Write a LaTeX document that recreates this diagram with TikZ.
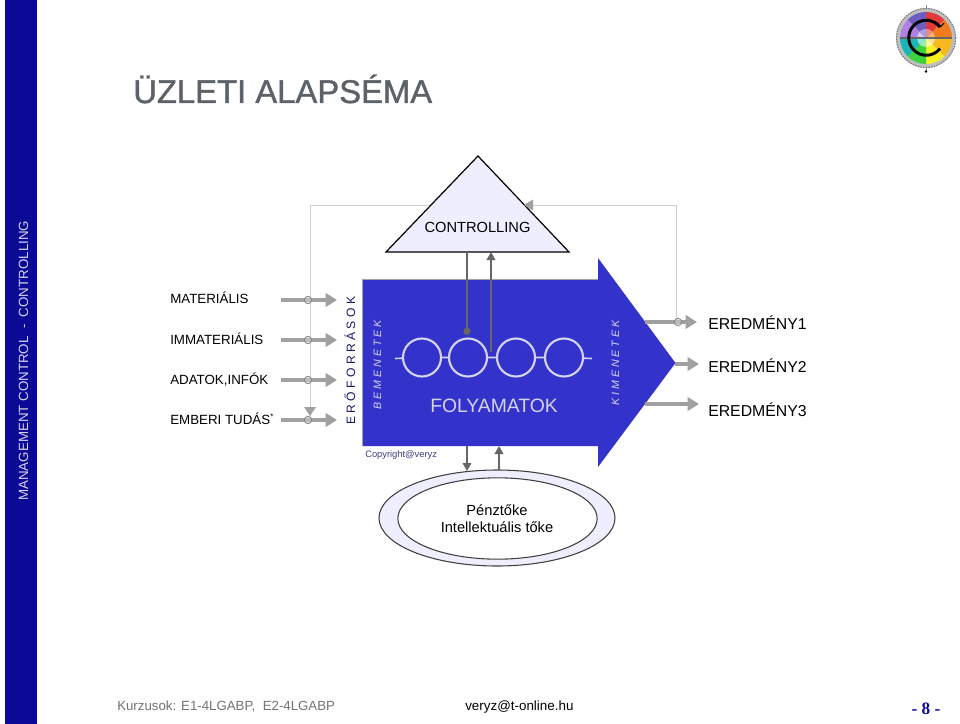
\documentclass[tikz,border=0pt]{standalone}
\usepackage{fontspec}
\setmainfont{Liberation Sans}
\newfontfamily\serifb{Liberation Serif}
\newfontfamily\titlefont[FakeBold=1.2]{Liberation Sans}
\usetikzlibrary{arrows.meta,shapes.geometric}
\definecolor{barblue}{HTML}{0A0A96}
\definecolor{bodyblue}{HTML}{3333CC}
\definecolor{palelav}{HTML}{EEEEFF}
\definecolor{lightline}{HTML}{D4D4F0}
\definecolor{flowgray}{HTML}{A0A0A0}
\definecolor{fbgray}{HTML}{CFCFCF}
\definecolor{darkarrow}{HTML}{666666}
\definecolor{titlegray}{HTML}{5C6268}
\definecolor{navytext}{HTML}{1A1A6A}
\tikzset{
  lbl/.style={anchor=base west,inner sep=0pt,text=black,font=\fontsize{10}{12}\selectfont},
  res/.style={anchor=base west,inner sep=0pt,text=black,font=\fontsize{11.85}{14}\selectfont},
  vert/.style={rotate=90,anchor=base west,inner sep=0pt},
  flow/.style={draw=flowgray,line width=3pt,-{Triangle[length=8.5pt,width=10pt,fill=flowgray]}},
  tap/.style={circle,draw=darkarrow!80,line width=.6pt,fill=flowgray!45,minimum size=5.6pt,inner sep=0pt,fill opacity=.5},
  feedback/.style={draw=fbgray,line width=.6pt},
  proc/.style={circle,draw=lightline,line width=1.6pt,minimum size=28.5pt,inner sep=0pt},
  stub/.style={draw=lightline,line width=1.2pt},
  ctrlarrow/.style={draw=darkarrow,line width=1pt},
}
\begin{document}
\begin{tikzpicture}[x=.75pt,y=-.75pt]
\useasboundingbox (0,0) rectangle (960,724);
\fill[white] (0,0) rectangle (960,724);
% side bar
\fill[barblue] (5,0) rectangle (37,724);
\node[vert,text=lightline,font=\fontsize{10}{12}\selectfont] (side) at (28,501) {MANAGEMENT CONTROL\ \ -\ \ CONTROLLING};
% title
\node[anchor=base west,inner sep=0pt,text=titlegray,font=\fontsize{24.6}{28}\selectfont\titlefont] (title) at (133,103) {ÜZLETI ALAPSÉMA};
% feedback line
\coordinate (fbR) at (676,322);
\coordinate (fbRt) at (676,205);
\coordinate (fbLt) at (310,205);
\coordinate (fbTip) at (530,205);
\coordinate (fbIn) at (430,205);
\coordinate (fbDown) at (310,420);
\draw[feedback] (fbIn) -- (fbLt) -- (fbDown);
\draw[feedback] (fbR) -- (fbRt) -- (fbTip);
% triangle
\draw[fill=palelav,draw=black,line width=.9pt,line join=miter] (478,156) coordinate (ctop) -- (569,252) coordinate (cr) -- (386,252) coordinate (cl) -- cycle;
\fill[flowgray] (524,205) -- (533,199.5) -- (533,210.5) -- cycle;
\fill[flowgray] (310,416) -- (304,407) -- (316,407) -- cycle;
\node[anchor=base,inner sep=0pt,font=\fontsize{11}{14}\selectfont] (ctrl) at (477.5,232) {CONTROLLING};
% big arrow
\fill[bodyblue] (362,279) -- (598,279) -- (598,258) -- (675.5,363) -- (598,467) -- (598,446) -- (362,446) -- cycle;
\draw[darkarrow!60,line width=.5pt] (362,446) -- (362,279) -- (598,279);
% process circles
\node[proc] (p1) at (422,357.5) {};
\node[proc] (p2) at (468,357.5) {};
\node[proc] (p3) at (516,357.5) {};
\node[proc] (p4) at (564,357.5) {};
\coordinate (sl) at (395,358.5);
\coordinate (sr) at (592,358.5);
\draw[stub] (sl) -- (p1) (p1) -- (p2) (p2) -- (p3) (p3) -- (p4) (p4) -- (sr);
\node[anchor=base west,inner sep=0pt,text=lightline,font=\fontsize{14.5}{17}\selectfont] (fol) at (430,412) {FOLYAMATOK};
% vertical texts
\node[vert,text=navytext,font=\fontsize{9.1}{11}\selectfont] (ero) at (355,425) {E R Ő F O R R Á S O K};
\node[vert,text=lightline,font=\fontsize{8}{10}\selectfont\itshape] (bem) at (381,410) {B E M E N E T E K};
\node[vert,text=lightline,font=\fontsize{8}{10}\selectfont\itshape] (kim) at (619,406) {K I M E N E T E K};
\node[anchor=base west,inner sep=0pt,text=navytext!85,font=\fontsize{7}{9}\selectfont] (copy) at (365,457) {Copyright@veryz};
% controlling arrows
\coordinate (c1a) at (467,252);
\coordinate (c1b) at (467,335);
\coordinate (c2a) at (491,352);
\coordinate (c2b) at (491,252);
\draw[ctrlarrow,-{Circle[length=5.5pt,fill=darkarrow]}] (c1a) -- (c1b);
\draw[ctrlarrow,-{Triangle[length=6pt,width=6.5pt,fill=darkarrow]}] (c2a) -- (c2b);
% left labels
\node[lbl] (m1) at (170,303.5) {MATERIÁLIS};
\node[lbl] (m2) at (170,344) {IMMATERIÁLIS};
\node[lbl] (m3) at (170,384) {ADATOK,INFÓK};
\node[lbl] (m4) at (170,424) {EMBERI TUDÁS\raisebox{3.5pt}{\fontsize{6}{6}\selectfont *}};
\foreach \n/\y in {1/300,2/340,3/380,4/420}{
  \coordinate (a\n) at (281,\y);
  \coordinate (b\n) at (337,\y);
  \draw[flow] (a\n) -- (b\n);
  \node[tap] (t\n) at (308,\y) {};
}
% right arrows
\coordinate (ra1) at (645,322); \coordinate (rb1) at (697,322);
\coordinate (ra2) at (675,364); \coordinate (rb2) at (699,364);
\coordinate (ra3) at (645,404); \coordinate (rb3) at (699,404);
\draw[flow] (ra1) -- (rb1);
\draw[flow] (ra2) -- (rb2);
\draw[flow] (ra3) -- (rb3);
\node[tap] (t5) at (678,322) {};
\node[res] (e1) at (708,329) {EREDMÉNY1};
\node[res] (e2) at (708,372) {EREDMÉNY2};
\node[res] (e3) at (708,416) {EREDMÉNY3};
% ellipses
\node[ellipse,draw=black!75,line width=.8pt,fill=palelav,minimum width=177pt,minimum height=72pt,inner sep=0pt] (outer) at (497,518) {};
\node[ellipse,draw=black!75,line width=.8pt,fill=white,minimum width=149.5pt,minimum height=61pt,inner sep=0pt] (inner) at (497.5,518.5) {};
\node[anchor=base,inner sep=0pt,font=\fontsize{11}{13}\selectfont] (pt) at (497,515) {Pénztőke};
\node[anchor=base,inner sep=0pt,font=\fontsize{11}{13}\selectfont] (it) at (497,532.5) {Intellektuális tőke};
% bottom arrows
\coordinate (u1) at (467,446); \coordinate (u2) at (467,471);
\coordinate (v1) at (499,470); \coordinate (v2) at (499,446);
\draw[ctrlarrow,-{Triangle[length=6pt,width=6.5pt,fill=darkarrow]}] (u1) -- (u2);
\draw[ctrlarrow,-{Triangle[length=6pt,width=6.5pt,fill=darkarrow]}] (v1) -- (v2);
% footer
\node[anchor=base west,inner sep=0pt,text=black!55,font=\fontsize{9.95}{12}\selectfont] (kurz) at (117,710) {Kurzusok: E1-4LGABP,\ \ E2-4LGABP};
\node[anchor=base west,inner sep=0pt,font=\fontsize{10.05}{12}\selectfont] (mail) at (465,710) {veryz@t-online.hu};
\node[anchor=base,inner sep=0pt,text=barblue,font=\fontsize{13}{15}\selectfont\serifb\bfseries] (pg) at (926,714) {- 8 -};
% logo (y pointing up inside this scope)
\begin{scope}[shift={(926,38)},yscale=-1]
  \draw[black!45,line width=.6pt] (0,-33) -- (0,33);
  \fill[black] (0,-33.5) circle (1.4);
  \fill[black!25] (0,0) circle (30);
  \draw[black!55,line width=.8pt,dash pattern=on 1pt off 1pt] (0,0) circle (29.5);
  \foreach \a/\b/\c/\d in {90/45/E23A3A/F08A8A,45/0/F07A1C/F8B070,0/-45/F8B820/FCE0A0,-45/-90/F8F020/FCFAA0,-90/-135/3CD23C/A0F0A0,-135/-180/1CB4B4/90E4E4,180/135/B080E4/D8C4F4,135/90/6E5CC0/A8A0E4}{
    \definecolor{cA}{HTML}{\c}\definecolor{cB}{HTML}{\d}
    \fill[cA] (0,0) -- (\a:26) arc[start angle=\a,end angle=\b,radius=26] -- cycle;
    \fill[cB] (0,0) -- (\a:9) arc[start angle=\a,end angle=\b,radius=9] -- cycle;
  }
  \draw[black!60,line width=1pt] (-26,0) -- (26,0);
  \draw[black,line width=2.2pt] (14,11) arc[start angle=38,end angle=322,radius=17.5];
  \draw[black,line width=.8pt] (14,11) -- (18,15);
\end{scope}
\end{tikzpicture}
\end{document}
